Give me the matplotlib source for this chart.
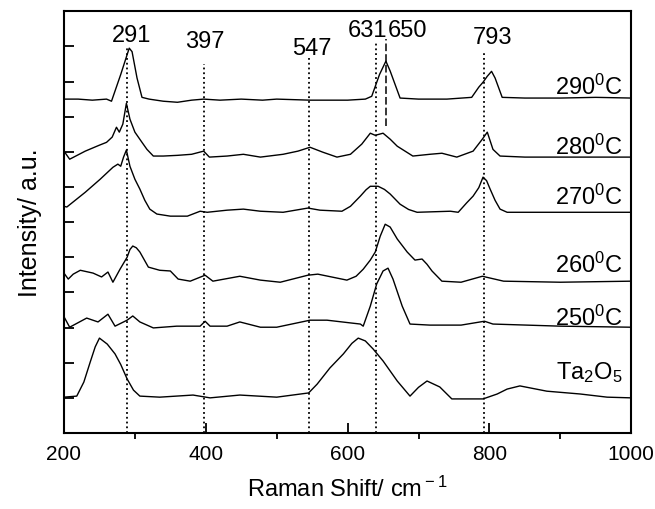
import numpy as np
import matplotlib
matplotlib.use('Agg')
import matplotlib.pyplot as plt
from matplotlib.ticker import MultipleLocator

plt.rcParams['font.family'] = ['Liberation Sans', 'DejaVu Sans']
plt.rcParams['mathtext.fontset'] = 'custom'
plt.rcParams['mathtext.rm'] = 'Liberation Sans'
plt.rcParams['mathtext.it'] = 'Liberation Sans:italic'
plt.rcParams['mathtext.bf'] = 'Liberation Sans:bold'

# Raman spectra (stacked, arbitrary units)
x_290 = [200, 220, 240, 260, 267, 280, 292, 296, 303, 310, 320, 340, 360, 380, 397, 420,
         450, 480, 500, 547, 580, 600, 625, 634, 645, 654, 660, 674, 700, 740, 775, 785,
         791, 797, 803, 808, 818, 850, 900, 950, 1000]
y_290 = [9.50, 9.50, 9.47, 9.50, 9.44, 10.20, 10.95, 10.85, 10.10, 9.55, 9.50, 9.44, 9.41,
         9.47, 9.50, 9.47, 9.50, 9.47, 9.50, 9.47, 9.47, 9.47, 9.50, 9.58, 10.20, 10.58,
         10.30, 9.53, 9.50, 9.50, 9.55, 9.84, 9.98, 10.15, 10.29, 10.10, 9.55, 9.53, 9.53,
         9.55, 9.53]

x_280 = [200, 208, 230, 250, 260, 268, 274, 278, 283, 288, 293, 300, 310, 317, 326, 340,
         360, 380, 397, 405, 430, 453, 477, 509, 530, 547, 565, 585, 604, 620, 632, 639,
         650, 660, 670, 692, 716, 733, 754, 777, 790, 797, 805, 815, 850, 900, 1000]
y_280 = [8.02, 7.79, 8.02, 8.19, 8.27, 8.42, 8.70, 8.56, 8.79, 9.38, 8.93, 8.56, 8.27,
         8.07, 7.88, 7.88, 7.90, 7.93, 8.02, 7.85, 7.88, 7.93, 7.85, 7.93, 8.02, 8.13,
         7.99, 7.85, 7.93, 8.22, 8.53, 8.47, 8.53, 8.36, 8.16, 7.88, 7.93, 7.96, 7.85,
         8.02, 8.36, 8.56, 8.07, 7.88, 7.85, 7.85, 7.85]

x_270 = [200, 204, 230, 251, 269, 276, 280, 284, 288, 293, 300, 307, 314, 321, 331, 350,
         374, 392, 402, 430, 453, 477, 509, 544, 561, 592, 604, 618, 626, 632, 643, 652,
         660, 674, 686, 698, 745, 756, 768, 777, 785, 791, 796, 801, 808, 815, 825, 900,
         1000]
y_270 = [6.45, 6.43, 6.85, 7.22, 7.56, 7.65, 7.59, 7.85, 8.05, 7.59, 7.22, 6.94, 6.62,
         6.37, 6.23, 6.17, 6.17, 6.31, 6.28, 6.34, 6.37, 6.31, 6.28, 6.40, 6.34, 6.31,
         6.45, 6.74, 6.92, 7.02, 7.02, 6.93, 6.80, 6.51, 6.36, 6.28, 6.31, 6.28, 6.55,
         6.74, 6.98, 7.28, 7.18, 6.94, 6.62, 6.37, 6.28, 6.28, 6.28]

x_260 = [201, 206, 213, 223, 241, 253, 262, 269, 279, 289, 293, 297, 302, 307, 319, 335,
         350, 361, 378, 399, 410, 448, 477, 505, 544, 558, 599, 612, 622, 632, 639, 646,
         653, 660, 670, 684, 695, 705, 712, 719, 733, 760, 790, 820, 900, 1000]
y_260 = [4.52, 4.38, 4.52, 4.63, 4.55, 4.44, 4.58, 4.29, 4.66, 5.00, 5.22, 5.32, 5.27,
         5.15, 4.72, 4.63, 4.61, 4.38, 4.32, 4.49, 4.32, 4.46, 4.35, 4.29, 4.49, 4.52,
         4.35, 4.46, 4.66, 4.92, 5.15, 5.60, 5.94, 5.86, 5.52, 5.15, 4.92, 4.95, 4.80,
         4.61, 4.32, 4.29, 4.46, 4.32, 4.29, 4.32]

x_250 = [201, 208, 232, 248, 262, 272, 289, 297, 307, 326, 359, 392, 399, 406, 430, 448,
         477, 500, 547, 571, 605, 618, 622, 632, 641, 650, 657, 664, 677, 688, 716, 760,
         793, 805, 900, 1000]
y_250 = [3.27, 3.01, 3.27, 3.16, 3.38, 3.04, 3.21, 3.33, 3.16, 2.99, 3.04, 3.04, 3.18,
         3.04, 3.04, 3.16, 3.01, 3.01, 3.21, 3.21, 3.13, 3.10, 3.04, 3.61, 4.24, 4.61,
         4.69, 4.38, 3.61, 3.10, 3.07, 3.07, 3.18, 3.10, 3.04, 3.01]

x_ta = [200, 218, 228, 237, 244, 250, 261, 272, 280, 289, 298, 307, 335, 382, 406, 448,
        500, 545, 557, 575, 594, 606, 615, 625, 636, 650, 670, 688, 700, 712, 730, 747,
        791, 811, 825, 843, 881, 928, 966, 1000]
y_ta = [1.02, 1.05, 1.45, 2.02, 2.45, 2.70, 2.53, 2.25, 1.95, 1.54, 1.22, 1.05, 1.02,
        1.08, 1.00, 1.08, 1.02, 1.14, 1.39, 1.85, 2.25, 2.55, 2.70, 2.62, 2.39, 2.05,
        1.48, 1.05, 1.30, 1.48, 1.31, 0.97, 0.97, 1.11, 1.25, 1.34, 1.19, 1.11, 1.02,
        1.00]

spectra = [(x_290, y_290), (x_280, y_280), (x_270, y_270),
           (x_260, y_260), (x_250, y_250), (x_ta, y_ta)]
names = [r'290$^{\rm 0}$C', r'280$^{\rm 0}$C', r'270$^{\rm 0}$C',
         r'260$^{\rm 0}$C', r'250$^{\rm 0}$C', r'Ta$_{\rm 2}$O$_{\rm 5}$']
name_y = [9.64, 7.93, 6.51, 4.58, 3.07, 1.57]

# reference bands: line position, top of line, label
band_pos = [289, 398, 546, 640, 793]
band_top = [11.0, 10.49, 10.66, 11.15, 10.83]
band_lbl = ['291', '397', '547', '631', '793']
band_lbl_x = [296, 399, 550, 656, 805]
band_lbl_y = [11.15, 10.98, 10.78, 11.29, 11.09]

fig = plt.figure(figsize=(6.55, 5.10), dpi=100)
ax = fig.add_axes([0.0977, 0.149, 0.866, 0.827])

for xs, ys in spectra:
    ax.plot(xs, ys, color='black', linewidth=1.0)

for pos, top in zip(band_pos, band_top):
    ax.plot([pos, pos], [0, top], color='black', linestyle=':', linewidth=1.3)
# 650 band: dashed, short
ax.plot([654, 654], [8.73, 11.2], color='black', linestyle=(0, (5, 2)), linewidth=1.1)

for lbl, lx, ly in zip(band_lbl, band_lbl_x, band_lbl_y):
    if lbl == '631':
        ax.text(lx, ly, lbl, ha='right', va='baseline', fontsize=17)
        ax.text(lx, ly, '650', ha='left', va='baseline', fontsize=17)
    else:
        ax.text(lx, ly, lbl, ha='center', va='baseline', fontsize=17)

for nm, ny in zip(names, name_y):
    ax.text(988, ny, nm, ha='right', va='baseline', fontsize=17)

ax.set_xlim(200, 1000)
ax.set_ylim(0, 12)
ax.xaxis.set_major_locator(MultipleLocator(200))
ax.xaxis.set_minor_locator(MultipleLocator(100))
ax.yaxis.set_major_locator(MultipleLocator(1))
ax.tick_params(axis='x', which='major', direction='in', length=7, width=1.3,
               labelsize=15, pad=8)
ax.tick_params(axis='x', which='minor', direction='out', length=4, width=1.3)
ax.tick_params(axis='y', which='major', direction='in', length=7, width=1.3,
               labelleft=False)
for sp in ax.spines.values():
    sp.set_linewidth(1.5)

ax.set_xlabel(r'Raman Shift/ cm$^{\rm -1}$', fontsize=17, labelpad=9)
ax.set_ylabel('Intensity/ a.u.', fontsize=18, labelpad=16)

fig.savefig('out.png', dpi=100)
